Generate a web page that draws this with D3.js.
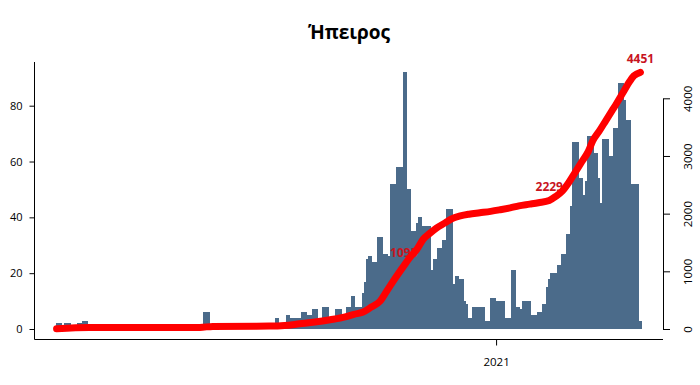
<!DOCTYPE html>
<html><head><meta charset="utf-8">
<script src="https://cdn.jsdelivr.net/npm/d3@7"></script>
<style>body{margin:0;background:#fff}</style>
</head><body><svg id="c" width="700" height="385"></svg>
<script>
// ---- data ----
const chartTitle = "Ήπειρος";
const startDay = "2020-06-12";
const dayCount = 270;
const dailyCases = [
  2,2,2,0,2,2,2,0,0,0,2,2,3,3,3,
  0,0,0,0,0,0,0,0,0,0,
  0,0,0,0,0,1,0,0,0,0,
  0,0,0,0,0,0,0,0,0,0,
  1,0,0,0,0,0,0,0,0,0,
  0,0,0,0,0,1,0,0,0,0,
  0,0,0,6,6,6,0,0,0,0,
  0,0,0,0,0,1,0,0,0,0,
  0,0,0,1,0,0,0,0,0,0,
  1,0,0,0,1,0,4,4,1,0,
  1,5,5,4,4,4,4,4,6,6,
  6,5,5,7,7,7,4,4,8,8,
  8,4,4,4,7,7,7,5,5,8,
  8,12,12,8,8,8,13,17,25,26,
  26,24,24,33,33,33,27,27,26,52,
  52,52,58,58,58,92,92,50,50,35,
  35,38,40,40,37,37,37,37,21,25,
  25,29,29,32,32,43,43,43,16,19,
  19,18,18,10,9,4,4,8,8,8,
  8,8,8,3,3,11,11,11,10,10,
  10,10,4,4,4,21,21,8,8,7,
  10,10,10,10,5,5,5,6,6,9,
  9,15,18,20,20,20,23,23,27,27,
  34,34,44,67,67,67,54,54,48,53,
  69,69,69,63,63,54,45,68,68,68,
  62,62,72,72,88,88,88,82,75,75,
  52,52,52,52,3
];
const cumDay   = [0,15,66,72,98,105,112,119,126,133,137,141,145,149,152,156,160,163,166,169,172,175,179,182,186,190,195,200,204,209,213,218,222,227,230,233,236,239,242,245,247,250,253,256,258,261,264,266,269];
const cumValue = [3,25,28,45,50,60,90,120,160,210,255,290,380,480,650,880,1095,1250,1380,1560,1660,1750,1840,1910,1960,1990,2015,2040,2065,2100,2135,2165,2190,2229,2300,2390,2540,2720,2900,3080,3260,3430,3610,3790,3910,4100,4290,4390,4451];
const labelDay   = [160, 227, 269];
const labelValue = [1095, 2229, 4451];
const leftTicks  = [0,20,40,60,80];
const rightTicks = [0,1000,2000,3000,4000];
const xTickDates = ["2021-01-01"];
const xTickLabels = ["2021"];

// ---- drawing ----
const svg = d3.select("#c");
const start = d3.utcParse("%Y-%m-%d")(startDay);
const dayAt = i => d3.utcDay.offset(start, i);

const x = d3.scaleUtc().domain([start, dayAt(dayCount)]).range([55.5, 641.5]);
const yL = d3.scaleLinear().domain([0, 80]).range([329, 105.7]);
const yR = d3.scaleLinear().domain([0, 4000]).range([329, 98.3]);
const dayCenter = i => (x(dayAt(i)) + x(dayAt(i + 1))) / 2;

const font = "'Open Sans', 'Liberation Sans', sans-serif";

// title
svg.append("text").attr("x", 349).attr("y", 38.5).attr("text-anchor", "middle")
  .attr("font-family", font).attr("font-weight", "bold").attr("font-size", 19)
  .attr("fill", "#000").text(chartTitle);

// bars
svg.append("g").attr("shape-rendering", "crispEdges")
  .selectAll("rect").data(dailyCases).join("rect")
  .attr("x", (d, i) => Math.round(x(dayAt(i))))
  .attr("width", (d, i) => Math.round(x(dayAt(i + 1))) - Math.round(x(dayAt(i))))
  .attr("y", d => yL(d))
  .attr("height", d => yL(0) - yL(d))
  .attr("fill", "#4b6b8a");

// box lines (left + bottom)
svg.append("path").attr("d", "M34.5,62V339.5H663").attr("fill", "none")
  .attr("stroke", "#000").attr("stroke-width", 1);

// left axis
const gL = svg.append("g").attr("transform", "translate(34.5,0)")
  .call(d3.axisLeft(yL).tickValues(leftTicks).tickSize(5).tickSizeOuter(0).tickPadding(7));
gL.select(".domain").remove();
gL.selectAll("line").attr("stroke", "#000");
gL.selectAll("text").attr("font-family", font).attr("font-size", 11).attr("fill", "#000");

// right axis
const gR = svg.append("g").attr("transform", "translate(663,0)")
  .call(d3.axisRight(yR).tickValues(rightTicks).tickFormat(d3.format("d")).tickSize(7).tickSizeOuter(0));
gR.select(".domain").attr("stroke", "#000");
gR.selectAll("line").attr("stroke", "#000");
gR.selectAll("text").attr("x", null).attr("dy", null)
  .attr("transform", "translate(29,0) rotate(-90)").attr("text-anchor", "middle")
  .attr("font-family", font).attr("font-size", 11.5).attr("fill", "#000");

// bottom axis
const xt = xTickDates.map(s => d3.utcParse("%Y-%m-%d")(s));
const gB = svg.append("g").attr("transform", "translate(0,339.5)")
  .call(d3.axisBottom(x).tickValues(xt).tickFormat((d, i) => xTickLabels[i]).tickSize(6).tickSizeOuter(0));
gB.select(".domain").remove();
gB.selectAll("line").attr("stroke", "#000");
gB.selectAll("text").attr("y", 26.5).attr("dy", null)
  .attr("font-family", font).attr("font-size", 11.5).attr("fill", "#000");

// labels (under the line)
svg.append("g").selectAll("text").data(labelDay).join("text")
  .attr("x", d => dayCenter(d))
  .attr("y", (d, i) => yR(labelValue[i]) - 9)
  .attr("text-anchor", "middle")
  .attr("font-family", font).attr("font-weight", "bold").attr("font-size", 12)
  .attr("fill", "#c8141e")
  .text((d, i) => labelValue[i]);

// cumulative line
const pts = cumDay.map((d, i) => [dayCenter(d), yR(cumValue[i])]);
svg.append("path").attr("d", d3.line().curve(d3.curveMonotoneX)(pts))
  .attr("fill", "none").attr("stroke", "#ff0000").attr("stroke-width", 7)
  .attr("stroke-linecap", "round").attr("stroke-linejoin", "round");
</script>
</body></html>
